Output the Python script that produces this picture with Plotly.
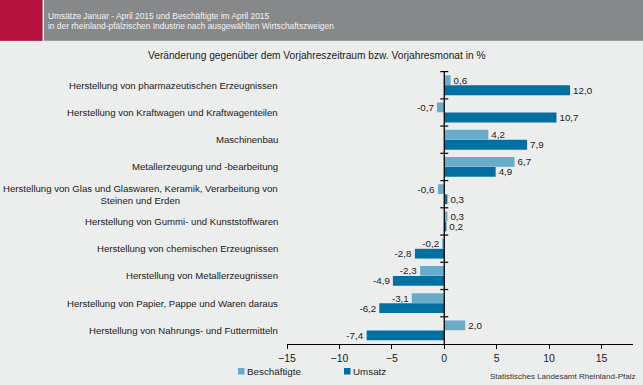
import plotly.graph_objects as go

categories = [
    "Herstellung von pharmazeutischen Erzeugnissen",
    "Herstellung von Kraftwagen und Kraftwagenteilen",
    "Maschinenbau",
    "Metallerzeugung und -bearbeitung",
    "Herstellung von Glas und Glaswaren, Keramik, Verarbeitung von<br>Steinen und Erden",
    "Herstellung von Gummi- und Kunststoffwaren",
    "Herstellung von chemischen Erzeugnissen",
    "Herstellung von Metallerzeugnissen",
    "Herstellung von Papier, Pappe und Waren daraus",
    "Herstellung von Nahrungs- und Futtermitteln",
]
beschaeftigte = [0.6, -0.7, 4.2, 6.7, -0.6, 0.3, -0.2, -2.3, -3.1, 2.0]
umsatz = [12.0, 10.7, 7.9, 4.9, 0.3, 0.2, -2.8, -4.9, -6.2, -7.4]
x_ticks = [-15, -10, -5, 0, 5, 10, 15]
series_names = ["Beschäftigte", "Umsatz"]

title_lines = ["Umsätze Januar - April 2015 und Beschäftigte im April 2015",
               "in der rheinland-pfälzischen Industrie nach ausgewählten Wirtschaftszweigen"]
subtitle = "Veränderung gegenüber dem Vorjahreszeitraum bzw. Vorjahresmonat in %"
source = "Statistisches Landesamt Rheinland-Pfalz"

W, H = 643, 385
L, R, T, B = 287, 10, 71, 41
PW, PH = W - L - R, H - T - B
FONT = "Liberation Sans, Arial, sans-serif"
BG = "#ECEDED"
C_LIGHT = "#68ABCB"
C_DARK = "#0070A3"
TXT = "#1a1a1a"


def px(x):
    return (x - L) / PW


def py(y):
    return (H - B - y) / PH


fig = go.Figure()
for name, vals, col in [(series_names[0], beschaeftigte, C_LIGHT),
                        (series_names[1], umsatz, C_DARK)]:
    fig.add_trace(go.Bar(
        y=categories, x=vals, orientation="h", name=name,
        marker=dict(color=col, line=dict(width=0)),
        texttemplate="%{x:.1f}", textposition="outside", cliponaxis=False,
        constraintext="none",
        textfont=dict(size=9.8, color=TXT, family=FONT),
        showlegend=False,
    ))

shapes = [
    # header band
    dict(type="rect", xref="paper", yref="paper", x0=px(0), x1=px(W), y0=py(40.7), y1=py(0),
         fillcolor="#878889", line=dict(width=0), layer="below"),
    dict(type="rect", xref="paper", yref="paper", x0=px(0), x1=px(42.7), y0=py(40.7), y1=py(0),
         fillcolor="#B5123E", line=dict(width=0), layer="above"),
    dict(type="rect", xref="paper", yref="paper", x0=px(42.7), x1=px(44), y0=py(40.7), y1=py(0),
         fillcolor="#FFFFFF", line=dict(width=0), layer="above"),
    # zero axis line
    dict(type="line", xref="x", yref="paper", x0=0, x1=0, y0=0, y1=1,
         line=dict(color="#000000", width=1.3), layer="above"),
    # legend squares
    dict(type="rect", xref="paper", yref="paper", x0=px(238), x1=px(244.5), y0=py(374.5), y1=py(368),
         fillcolor=C_LIGHT, line=dict(width=0)),
    dict(type="rect", xref="paper", yref="paper", x0=px(344), x1=px(350.5), y0=py(374.5), y1=py(368),
         fillcolor=C_DARK, line=dict(width=0)),
]
# tick marks on zero axis at category boundaries
for i in range(len(categories)):
    yb = i - 0.5
    shapes.append(dict(type="line", xref="x", yref="y", x0=-0.38, x1=0.38, y0=yb, y1=yb,
                       line=dict(color="#000000", width=1.2), layer="above"))

annotations = [
    dict(xref="paper", yref="paper", x=px(46), y=py(15.5), xanchor="left", yanchor="middle",
         text=title_lines[0], showarrow=False, font=dict(size=8.4, color="#F4F4F4", family=FONT)),
    dict(xref="paper", yref="paper", x=px(46), y=py(26.5), xanchor="left", yanchor="middle",
         text=title_lines[1], showarrow=False, font=dict(size=8.4, color="#F4F4F4", family=FONT)),
    dict(xref="paper", yref="paper", x=px(317), y=py(55), xanchor="center", yanchor="middle",
         text=subtitle, showarrow=False, font=dict(size=10.2, color=TXT, family=FONT)),
    dict(xref="paper", yref="paper", x=px(637), y=py(376), xanchor="right", yanchor="middle",
         text=source, showarrow=False, font=dict(size=8, color="#333333", family=FONT)),
    dict(xref="paper", yref="paper", x=px(245), y=py(371.5), xanchor="left", yanchor="middle",
         text=series_names[0], showarrow=False, font=dict(size=9.8, color=TXT, family=FONT)),
    dict(xref="paper", yref="paper", x=px(351), y=py(371.5), xanchor="left", yanchor="middle",
         text=series_names[1], showarrow=False, font=dict(size=9.8, color=TXT, family=FONT)),
]
for c in categories:
    annotations.append(dict(xref="paper", yref="y", x=px(280), y=c, xanchor="right",
                            yanchor="middle", align="center", text=c, showarrow=False,
                            font=dict(size=9.6, color=TXT, family=FONT)))

fig.update_layout(
    width=W, height=H,
    margin=dict(l=L, r=R, t=T, b=B, pad=0, autoexpand=False),
    paper_bgcolor=BG, plot_bgcolor=BG,
    separators=",.",
    barmode="group", bargap=0.26, bargroupgap=0.03,
    font=dict(family=FONT, size=11, color=TXT),
    xaxis=dict(range=[-15, 18], tickvals=x_ticks, ticks="outside", ticklen=4,
               tickcolor="#000000", showline=True, linecolor="#000000", linewidth=1.3,
               showgrid=False, zeroline=False, tickfont=dict(size=10.5, color=TXT, family=FONT)),
    yaxis=dict(autorange="reversed", showticklabels=False, showgrid=False, zeroline=False,
               showline=False, ticks=""),
    showlegend=False,
    shapes=shapes,
    annotations=annotations,
)

fig.write_html("out.html", config={"displayModeBar": False},
               post_script="document.body.style.margin='0';document.body.style.padding='0';"
                           "document.body.style.background='" + BG + "';")
